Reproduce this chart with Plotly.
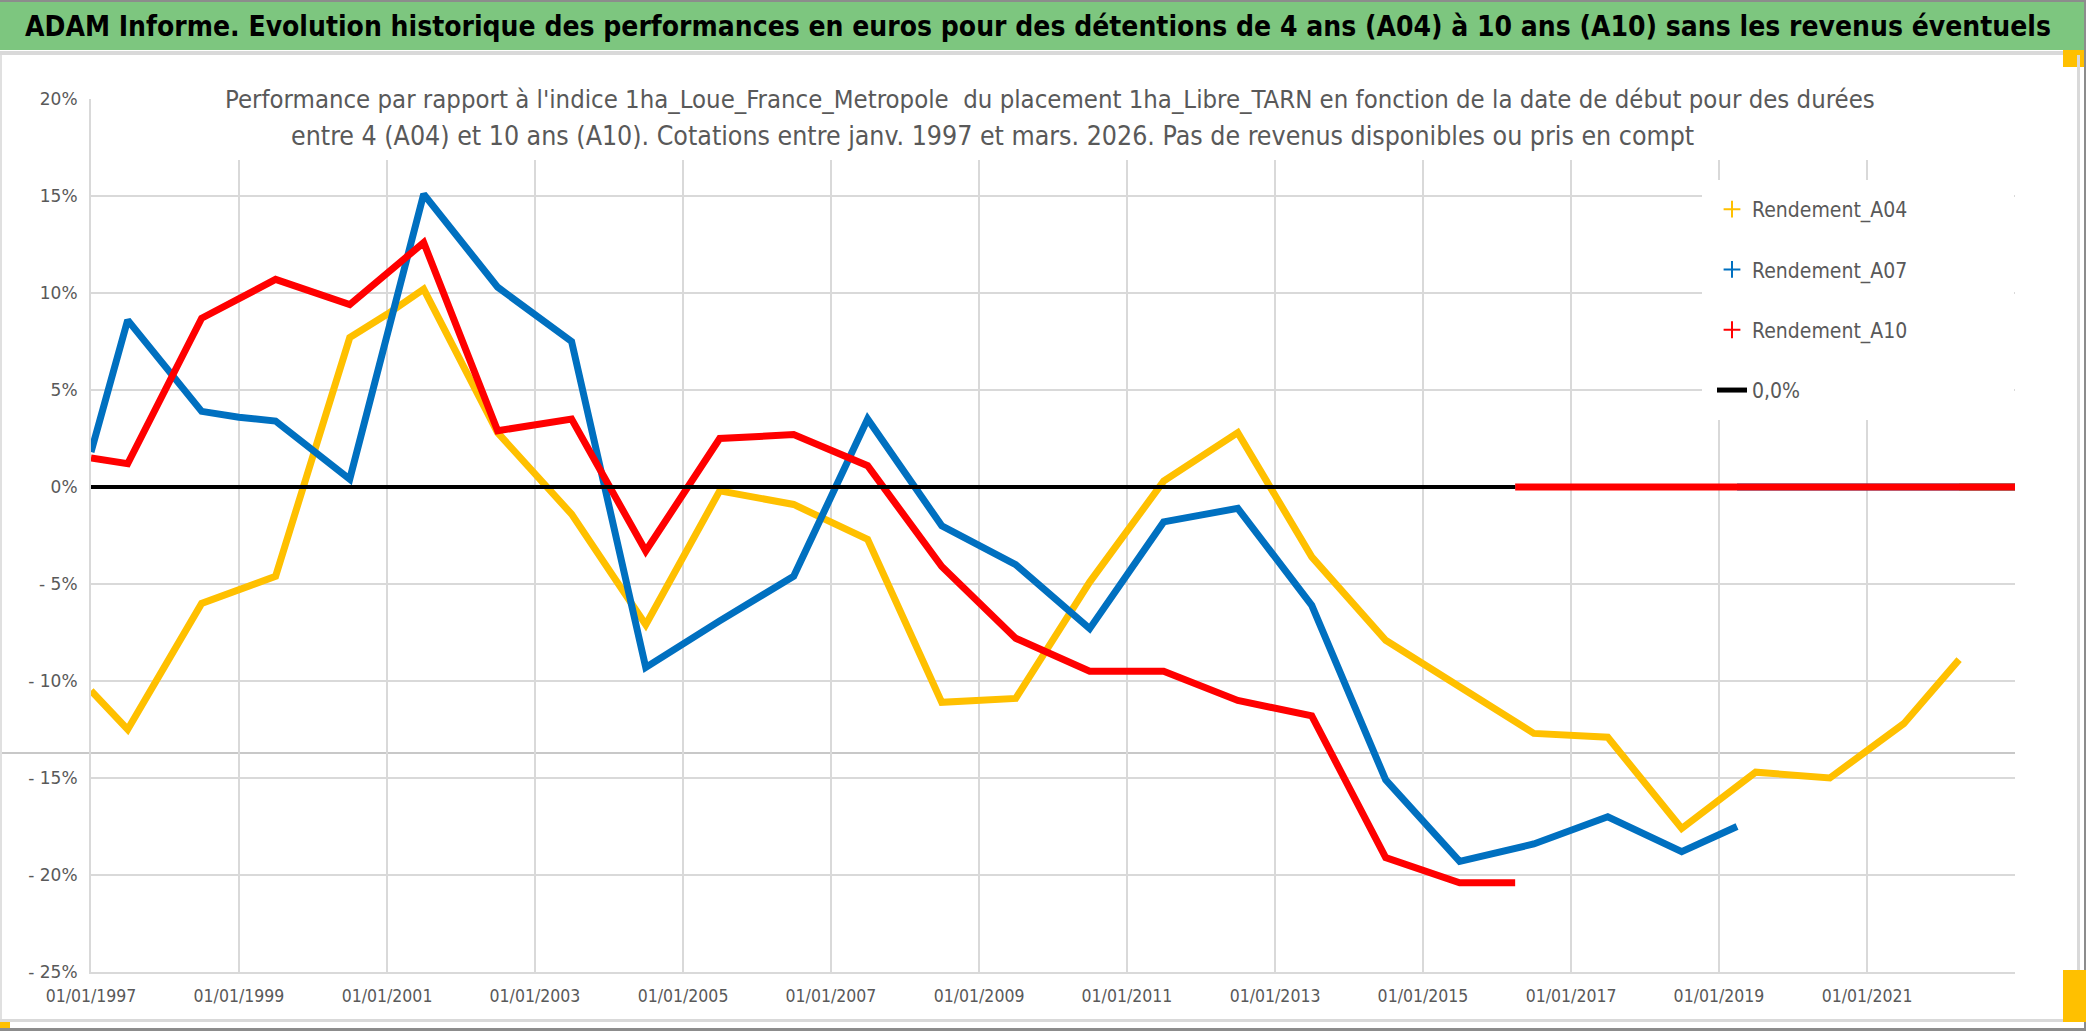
import plotly.graph_objects as go

# ---------------- data (percent) ----------------
a04_dates = ["1997-01-01", "1997-07-01", "1998-07-01", "1999-01-01", "1999-07-01",
             "2000-07-01", "2001-01-01", "2001-07-01", "2002-07-01", "2003-07-01",
             "2004-07-01", "2005-07-01", "2006-07-01", "2007-07-01", "2008-07-01",
             "2009-07-01", "2010-07-01", "2011-07-01", "2012-07-01", "2013-07-01",
             "2014-07-01", "2015-07-01", "2016-07-01", "2017-07-01", "2018-07-01",
             "2019-07-01", "2020-07-01", "2021-07-01", "2022-03-31"]
a04_vals = [-10.5, -12.5, -6.0, -5.3, -4.6,
            7.7, 8.9, 10.2, 2.8, -1.4,
            -7.1, -0.2, -0.9, -2.7, -11.1,
            -10.9, -4.9, 0.3, 2.8, -3.6,
            -7.9, -10.3, -12.7, -12.9, -17.6,
            -14.7, -15.0, -12.2, -8.9]
a04_tail_dates = ["2022-03-31", "2023-01-01"]
a04_tail_vals = [0.0, 0.0]

a07_dates = ["1997-01-01", "1997-07-01", "1998-07-01", "1999-01-01", "1999-07-01",
             "2000-07-01", "2001-07-01", "2002-07-01", "2003-07-01", "2004-07-01",
             "2005-07-01", "2006-07-01", "2007-07-01", "2008-07-01", "2009-07-01",
             "2010-07-01", "2011-07-01", "2012-07-01", "2013-07-01", "2014-07-01",
             "2015-07-01", "2016-07-01", "2017-07-01", "2018-07-01", "2019-03-31"]
a07_vals = [1.8, 8.6, 3.9, 3.6, 3.4,
            0.4, 15.1, 10.3, 7.5, -9.3,
            -6.9, -4.6, 3.5, -2.0, -4.0,
            -7.3, -1.8, -1.1, -6.1, -15.1,
            -19.3, -18.4, -17.0, -18.8, -17.5]
a07_tail_dates = ["2019-03-31", "2023-01-01"]
a07_tail_vals = [0.0, 0.0]

a10_dates = ["1997-01-01", "1997-07-01", "1998-07-01", "1999-01-01", "1999-07-01",
             "2000-07-01", "2001-07-01", "2002-07-01", "2003-07-01", "2004-07-01",
             "2005-07-01", "2006-07-01", "2007-07-01", "2008-07-01", "2009-07-01",
             "2010-07-01", "2011-07-01", "2012-07-01", "2013-07-01", "2014-07-01",
             "2015-07-01", "2016-03-31"]
a10_vals = [1.5, 1.2, 8.7, 9.7, 10.7,
            9.4, 12.6, 2.9, 3.5, -3.3,
            2.5, 2.7, 1.1, -4.1, -7.8,
            -9.5, -9.5, -11.0, -11.8, -19.1,
            -20.4, -20.4]
a10_tail_dates = ["2016-03-31", "2023-01-01"]
a10_tail_vals = [0.0, 0.0]

ref_dates = ["1997-01-01", "2016-03-31"]
ref_vals = [0.0, 0.0]

x_tick_dates = ["1997-01-01", "1999-01-01", "2001-01-01", "2003-01-01", "2005-01-01",
                "2007-01-01", "2009-01-01", "2011-01-01", "2013-01-01", "2015-01-01",
                "2017-01-01", "2019-01-01", "2021-01-01"]
y_tick_vals = [20, 15, 10, 5, 0, -5, -10, -15, -20, -25]
y_tick_text = ["20%", "15%", "10%", "5%", "0%", "- 5%", "- 10%", "- 15%", "- 20%", "- 25%"]

series_names = ["Rendement_A04", "Rendement_A07", "Rendement_A10", "0,0%"]
COL_A04, COL_A07, COL_A10, COL_REF = "#FFC000", "#0070C0", "#FF0000", "#000000"

TITLE = ("ADAM Informe. Evolution historique des performances en euros pour des détentions "
         "de 4 ans (A04) à 10 ans (A10) sans les revenus éventuels")
SUB1 = ("Performance par rapport à l'indice 1ha_Loue_France_Metropole  du placement "
        "1ha_Libre_TARN en fonction de la date de début pour des durées")
SUB2 = ("entre 4 (A04) et 10 ans (A10). Cotations entre janv. 1997 et mars. 2026. "
        "Pas de revenus disponibles ou pris en compt")

# ---------------- layout geometry ----------------
W, H = 2086, 1031
ML, MR, MT, MB = 91, 71, 99, 59
PW = W - ML - MR
PH = H - MT - MB


def px(xp):
    return (xp - ML) / PW


def py(yp):
    return (H - MB - yp) / PH


NARROW = "DejaVu Sans Condensed, Liberation Sans Narrow, Arial Narrow, sans-serif"
GRAY_TXT = "#595959"
GRID = "#D9D9D9"

fig = go.Figure()

LW = 7
for d, v, c in [(a04_dates, a04_vals, COL_A04), (a04_tail_dates, a04_tail_vals, COL_A04),
                (a07_dates, a07_vals, COL_A07), (a07_tail_dates, a07_tail_vals, COL_A07),
                (a10_dates, a10_vals, COL_A10), (a10_tail_dates, a10_tail_vals, COL_A10)]:
    fig.add_trace(go.Scatter(x=d, y=v, mode="lines", line=dict(color=c, width=LW),
                             showlegend=False, hoverinfo="skip"))

fig.add_trace(go.Scatter(x=ref_dates, y=ref_vals, mode="lines", name=series_names[3],
                         line=dict(color=COL_REF, width=4), legendgroup="g4",
                         legendrank=4))

# legend entries (marker style as in the reference legend)
for i, c in enumerate([COL_A04, COL_A07, COL_A10]):
    fig.add_trace(go.Scatter(x=[None], y=[None], mode="markers", name=series_names[i],
                             marker=dict(symbol="cross-thin", size=7,
                                         line=dict(color=c, width=2), color=c),
                             legendgroup="g%d" % (i + 1), legendrank=i + 1))

shapes = []


def rect(x0, y0, x1, y1, color, layer="above"):
    shapes.append(dict(type="rect", xref="paper", yref="paper",
                       x0=px(x0), x1=px(x1), y0=py(y1), y1=py(y0),
                       fillcolor=color, line=dict(width=0), layer=layer))


# title bar and frame
rect(0, 0, W, 50, "#7DC67F")
rect(0, 0, W, 2, "#8C8C8C")
rect(0, 51, 2063, 55, "#D9D9D9")
rect(2063, 50, W, 67, "#FFC000")
rect(2077, 55, 2080, 1021, "#D9D9D9")
rect(2084, 0, W, H, "#8C8C8C")
rect(0, 55, 2, 1021, "#E0E0E0")
rect(0, 1019, 2063, 1022, "#D9D9D9")
rect(0, 1028, W, H, "#8C8C8C")
rect(0, 1022, 10, 1028, "#FFC000")
rect(2063, 970, W, 1022, "#FFC000")
# white boxes behind subtitle and legend (hide gridlines)
rect(225, 82, 1880, 160, "white")
rect(1702, 180, 2014, 420, "white")
# stray horizontal line seen in the reference
shapes.append(dict(type="line", xref="paper", yref="paper", x0=px(0), x1=px(2015),
                   y0=py(753), y1=py(753), line=dict(color="#C8C8C8", width=2), layer="below"))

annotations = [
    dict(text="<b>" + TITLE + "</b>", xref="paper", yref="paper", x=px(1038), y=py(26),
         xanchor="center", yanchor="middle", showarrow=False,
         font=dict(family=NARROW, size=28, color="black")),
    dict(text=SUB1, xref="paper", yref="paper", x=px(1050), y=py(99),
         xanchor="center", yanchor="middle", showarrow=False,
         font=dict(family=NARROW, size=25.5, color=GRAY_TXT)),
    dict(text=SUB2, xref="paper", yref="paper", x=px(992), y=py(136),
         xanchor="center", yanchor="middle", showarrow=False,
         font=dict(family=NARROW, size=26.5, color=GRAY_TXT)),
]

fig.update_layout(
    width=W, height=H,
    margin=dict(l=ML, r=MR, t=MT, b=MB),
    paper_bgcolor="white", plot_bgcolor="white",
    shapes=shapes, annotations=annotations,
    showlegend=True,
    legend=dict(x=px(1712), y=py(189), xanchor="left", yanchor="top",
                bgcolor="rgba(0,0,0,0)", font=dict(family=NARROW, size=21, color=GRAY_TXT),
                tracegroupgap=30, itemsizing="constant"),
    xaxis=dict(type="date", range=["1997-01-01", "2023-01-01"], tickvals=x_tick_dates,
               tickformat="%d/%m/%Y", showgrid=True, gridcolor=GRID, gridwidth=2,
               showline=True, linecolor=GRID, linewidth=2, zeroline=False, ticks="",
               tickfont=dict(family=NARROW, size=17.5, color=GRAY_TXT), ticklabelstandoff=7),
    yaxis=dict(range=[-25, 20], tickvals=y_tick_vals, ticktext=y_tick_text,
               showgrid=True, gridcolor=GRID, gridwidth=2, showline=True, linecolor=GRID,
               linewidth=2, zeroline=False, ticks="",
               tickfont=dict(family="DejaVu Sans, Verdana, sans-serif", size=17, color=GRAY_TXT),
               ticklabelstandoff=8),
)

fig.write_html("out.html", config={"displayModeBar": False},
               post_script="document.body.style.margin='0px';")
